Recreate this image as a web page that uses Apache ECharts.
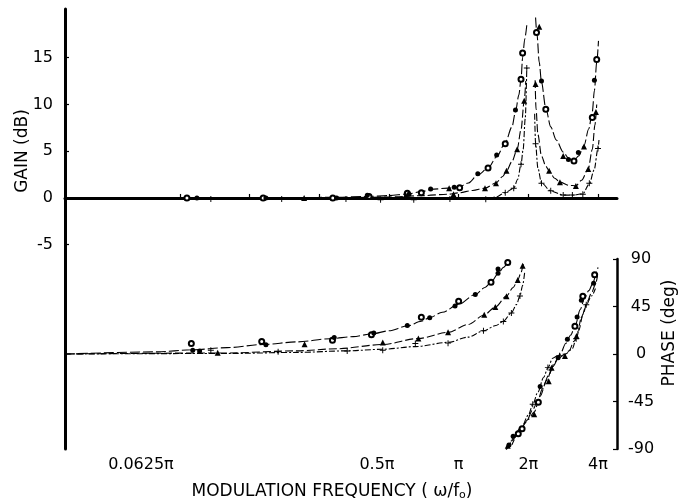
<!DOCTYPE html>
<html>
<head>
<meta charset="utf-8">
<script src="https://cdn.jsdelivr.net/npm/echarts@6/dist/echarts.min.js"></script>
<style>html,body{margin:0;padding:0;background:#fff}#c{width:683px;height:503px}</style>
</head>
<body>
<div id="c"></div>
<script>
// ---- axis ticks (frequency in units of pi) ----
const freqTicks = [0.0625, 0.125, 0.25, 0.5, 1, 2, 4];
const freqLabelValues = [0.0625, 0.5, 1, 2, 4];
const gainTicks = [-5, 0, 5, 10, 15];
const phaseTicks = [-90, -45, 0, 45, 90];

// ---- GAIN measured points [freq/pi, dB] ----
const gainOpen = [[0.067,0],[0.143,0],[0.286,0],[0.41,0.15],[0.6,0.5],[0.69,0.57],[1.01,1.1],[1.34,3.2],[1.59,5.8],[1.86,12.7],[1.89,15.5],[2.17,17.7],[2.38,9.5],[3.15,3.96],[3.78,8.6],[3.95,14.8]];
const gainFilled = [[0.074,0],[0.147,0],[0.297,0],[0.403,0.3],[0.61,0.4],[0.757,0.96],[0.957,1.14],[1.21,2.6],[1.46,4.6],[1.76,9.4],[2.28,12.5],[2.98,4.1],[3.29,4.85],[3.86,12.6]];
const gainTri = [[0.215,0],[0.59,0.3],[0.91,1.04],[0.95,0.4],[1.30,1.04],[1.45,1.57],[1.61,2.9],[1.79,5.2],[1.92,10.4],[2.23,18.3],[2.15,12.2],[2.46,2.9],[2.74,1.68],[2.83,4.5],[3.21,1.28],[3.48,5.5],[3.63,3.1],[3.92,9.2]];
const gainPlus = [[0.085,-0.1],[0.172,-0.1],[0.326,-0.1],[0.46,-0.2],[0.64,-0.2],[0.917,-0.1],[1.31,-0.14],[1.59,0.57],[1.73,1.04],[1.86,3.6],[1.97,13.9],[2.15,5.8],[2.28,1.57],[2.50,0.78],[2.83,0.32],[3.10,0.32],[3.44,0.4],[3.67,1.57],[4.0,5.3]];

// ---- GAIN fitted curves ----
const gainUpperLeft = [[0.0199,0],[0.1,0],[0.2,0.03],[0.3,0.08],[0.4,0.15],[0.5,0.25],[0.6,0.42],[0.7,0.7],[0.76,0.92],[0.9,1.05],[1.0,1.15],[1.1,1.6],[1.21,2.45],[1.34,3.2],[1.46,4.4],[1.59,5.9],[1.7,7.6],[1.76,9.2],[1.82,11],[1.86,12.7],[1.89,15.0],[1.93,17],[1.97,18.5]];
const gainUpperRight = [[2.15,19.3],[2.18,17.5],[2.23,14.5],[2.28,12.4],[2.38,9.6],[2.5,7.6],[2.64,6.2],[2.83,4.9],[3.0,4.2],[3.15,4.0],[3.3,4.5],[3.48,5.6],[3.65,7.4],[3.78,9.2],[3.86,11.5],[3.95,14.5],[4.02,16.8]];
const gainMidLeft = [[0.0199,0],[0.3,0.02],[0.5,0.1],[0.7,0.25],[0.9,0.4],[1.0,0.55],[1.15,0.8],[1.3,1.05],[1.45,1.6],[1.55,2.3],[1.61,2.9],[1.7,3.9],[1.79,5.2],[1.86,7.3],[1.92,10.4],[1.95,12.5]];
const gainMidRight = [[2.14,12.6],[2.16,9.5],[2.2,6.8],[2.28,4.5],[2.38,3.4],[2.46,2.9],[2.6,2.1],[2.74,1.7],[3.0,1.35],[3.21,1.3],[3.4,1.9],[3.63,3.1],[3.78,5.2],[3.88,7.8],[3.95,10.0]];
const gainLowLeft = [[0.0199,0],[0.5,-0.05],[1.0,-0.05],[1.31,-0.1],[1.45,0.1],[1.59,0.57],[1.73,1.04],[1.8,2.0],[1.86,3.6],[1.9,5.2],[1.94,8.5],[1.97,13.9]];
const gainLowRight = [[2.13,9],[2.15,5.8],[2.2,3.2],[2.28,1.6],[2.5,0.75],[2.83,0.3],[3.1,0.3],[3.44,0.45],[3.67,1.5],[3.85,3.0],[4.0,5.3],[4.04,6.2]];

// ---- PHASE measured points [freq/pi, deg] ----
const phaseOpen = [[0.07,10],[0.141,11.9],[0.285,13],[0.42,18.3],[0.69,34.9],[1.0,50],[1.38,68],[1.63,86.8],[1.81,-75.6],[1.88,-70.8],[2.21,-45.8],[3.18,26.4],[3.44,54.7],[3.87,75]];
const phaseFilled = [[0.071,3.5],[0.076,2.9],[0.147,8.7],[0.29,15.7],[0.43,19.9],[0.6,27],[0.75,34.3],[0.965,45.5],[1.18,56.4],[1.48,80.5],[1.48,76.6],[1.65,-86.2],[1.72,-77.9],[2.25,-30.8],[2.69,-3.5],[2.95,14],[3.25,35],[3.39,51],[3.83,67]];
const phaseTri = [[0.091,1.3],[0.216,9.3],[0.47,10.9],[0.67,14.7],[0.9,20.5],[1.29,37.2],[1.44,44.5],[1.61,54.8],[1.80,70.2],[1.89,83.7],[1.63,-87],[2.12,-57],[2.45,-25.7],[2.52,-13],[2.88,-1.9],[3.23,17]];
const phasePlus = [[0.085,3.5],[0.166,2.2],[0.33,2.9],[0.47,3.5],[0.65,9.9],[0.9,10.3],[1.28,22.1],[1.56,30.8],[1.69,38.8],[1.84,55],[2.09,-47.6],[2.43,-12.9],[2.73,-1.6],[3.22,14.5],[3.56,46.6]];

// ---- PHASE fitted curves ----
const phaseUpperLeft = [[0.0199,0],[0.05,2],[0.07,4],[0.1,6],[0.143,9],[0.2,11.5],[0.28,14.5],[0.35,16.5],[0.42,19],[0.5,22],[0.6,26.5],[0.69,31],[0.75,34.5],[0.85,39.5],[1.0,47],[1.18,56.4],[1.3,63],[1.38,68],[1.48,76],[1.56,82],[1.63,87]];
const phaseMidLeft = [[0.0199,0],[0.1,1],[0.2,3],[0.3,5],[0.47,9],[0.67,14.7],[0.9,20.5],[1.1,28],[1.29,37],[1.44,44.5],[1.61,54.8],[1.72,63],[1.80,70],[1.86,77],[1.90,84],[1.92,88]];
const phaseLowLeft = [[0.0199,0],[0.1,0.5],[0.2,1.5],[0.33,3],[0.47,4.5],[0.65,7],[0.9,11],[1.1,16],[1.28,22],[1.45,27],[1.56,31],[1.69,39],[1.78,47],[1.84,55],[1.89,65],[1.93,78]];
const phaseUpperRight = [[1.6,-92],[1.65,-86],[1.73,-79],[1.85,-72],[1.95,-65],[2.1,-52],[2.2,-44],[2.3,-33],[2.45,-20],[2.6,-8],[2.75,0],[2.9,10],[3.05,18],[3.2,28],[3.35,42],[3.5,53],[3.65,60],[3.8,67],[3.95,78],[4.0,82]];
const phaseMidRight = [[1.6,-92],[1.7,-82],[1.85,-70],[2.0,-62],[2.12,-55],[2.25,-40],[2.4,-25],[2.55,-12],[2.7,-4],[2.85,-1],[3.0,3],[3.15,12],[3.3,22],[3.45,38],[3.6,50],[3.75,58],[3.9,66],[3.98,74]];
const phaseLowRight = [[1.7,-86],[1.85,-72],[2.0,-58],[2.09,-48],[2.2,-36],[2.33,-22],[2.43,-13],[2.55,-4],[2.7,-1],[2.9,0],[3.1,5],[3.22,14.5],[3.4,35],[3.56,46.6],[3.75,55],[3.9,62]];

const FONT = 'DejaVu Sans';
const PLUS = 'path://M4.2,0 H5.8 V4.2 H10 V5.8 H5.8 V10 H4.2 V5.8 H0 V4.2 H4.2 Z';

function curve(data, x, y, dash) {
  return {type:'line', xAxisIndex:x, yAxisIndex:y, data:data, symbol:'none', smooth:0.3, smoothMonotone:'x',
    lineStyle:{color:'#000', width:1.1, type:dash}, z:2, silent:true};
}
function marks(data, x, y, symbol, size) {
  return {type:'scatter', xAxisIndex:x, yAxisIndex:y, data:data, symbol:symbol, symbolSize:size,
    itemStyle:{color:'#000', borderColor:'#000', borderWidth: symbol==='emptyCircle'?1:0, opacity:1}, z:5, silent:true};
}
function near(a,b){return Math.abs(a-b) < 1e-6*Math.max(1,b);}

const chart = echarts.init(document.getElementById('c'), null, {renderer:'canvas'});
chart.setOption({
  animation:false,
  backgroundColor:'#fff',
  grid:[
    {left:65, right:66, top:9, bottom:54},
    {left:65, right:66, top:259, bottom:54}
  ],
  xAxis:[
    {type:'log', logBase:2, gridIndex:0, min:0.01992, max:4.833,
     axisLine:{show:true, lineStyle:{color:'#000', width:3}},
     axisTick:{show:true, inside:true, length:4, lineStyle:{color:'#000', width:1.2}, customValues:freqTicks},
     axisLabel:{show:true, margin:8, color:'#000', fontSize:16, fontFamily:FONT, customValues:freqLabelValues,
       formatter:function(v){
         if (near(v,0.0625)) return '{a|0.0625π}';
         if (near(v,0.5)) return '{b|0.5π}';
         if (near(v,1)) return 'π';
         if (near(v,2)) return '2π';
         if (near(v,4)) return '4π';
         return '';
       },
       rich:{a:{fontSize:16, fontFamily:FONT, color:'#000', padding:[0,78,0,0]},
             b:{fontSize:16, fontFamily:FONT, color:'#000', padding:[0,24,0,0]}}},
     splitLine:{show:false}},
    {type:'log', logBase:2, gridIndex:1, min:0.01992, max:4.833, show:false}
  ],
  yAxis:[
    {type:'value', gridIndex:0, position:'left', min:-26.85, max:20.21,
     axisLine:{show:true, lineStyle:{color:'#000', width:3}},
     axisTick:{show:true, inside:true, length:4, lineStyle:{color:'#000', width:1.2}, customValues:gainTicks},
     axisLabel:{show:true, margin:12, color:'#000', fontSize:16, fontFamily:FONT, customValues:gainTicks},
     splitLine:{show:false}},
    {type:'value', gridIndex:1, position:'right', min:-90, max:90, interval:45,
     axisLine:{show:true, lineStyle:{color:'#000', width:2.5}},
     axisTick:{show:true, inside:true, length:4, lineStyle:{color:'#000', width:1.2}},
     axisLabel:{show:true, margin:24, align:'center', color:'#000', fontSize:16, fontFamily:FONT},
     splitLine:{show:false}}
  ],
  graphic:[
    {type:'text', x:23, y:151, rotation:Math.PI/2,
     style:{text:'GAIN (dB)', fill:'#000', font:'17px "DejaVu Sans"', align:'center', verticalAlign:'middle'}},
    {type:'text', x:670, y:333, rotation:Math.PI/2,
     style:{text:'PHASE (deg)', fill:'#000', font:'17px "DejaVu Sans"', align:'center', verticalAlign:'middle'}},
    {type:'text', x:332, y:492,
     style:{text:'MODULATION FREQUENCY ( ω/f{s|o})', fill:'#000', font:'17px "DejaVu Sans"', align:'center', verticalAlign:'middle',
       rich:{s:{fontSize:11, fontFamily:FONT, fill:'#000', verticalAlign:'bottom'}}}}
  ],
  series:[
    curve(gainUpperLeft,0,0,[10,3]),
    curve(gainUpperRight,0,0,[10,3]),
    curve(gainMidLeft,0,0,[8,3]),
    curve(gainMidRight,0,0,[8,3]),
    curve(gainLowLeft,0,0,[6,2,2,2]),
    curve(gainLowRight,0,0,[6,2,2,2]),
    curve(phaseUpperLeft,1,1,[10,3]),
    curve(phaseMidLeft,1,1,[8,3]),
    curve(phaseLowLeft,1,1,[6,2,2,2]),
    curve(phaseUpperRight,1,1,[10,3]),
    curve(phaseMidRight,1,1,[8,3]),
    curve(phaseLowRight,1,1,[6,2,2,2]),
    marks(gainOpen,0,0,'emptyCircle',5),
    marks(gainFilled,0,0,'circle',5),
    marks(gainTri,0,0,'triangle',6),
    marks(gainPlus,0,0,PLUS,6),
    marks(phaseOpen,1,1,'emptyCircle',5),
    marks(phaseFilled,1,1,'circle',5),
    marks(phaseTri,1,1,'triangle',6),
    marks(phasePlus,1,1,PLUS,6)
  ]
});
</script>
</body>
</html>
